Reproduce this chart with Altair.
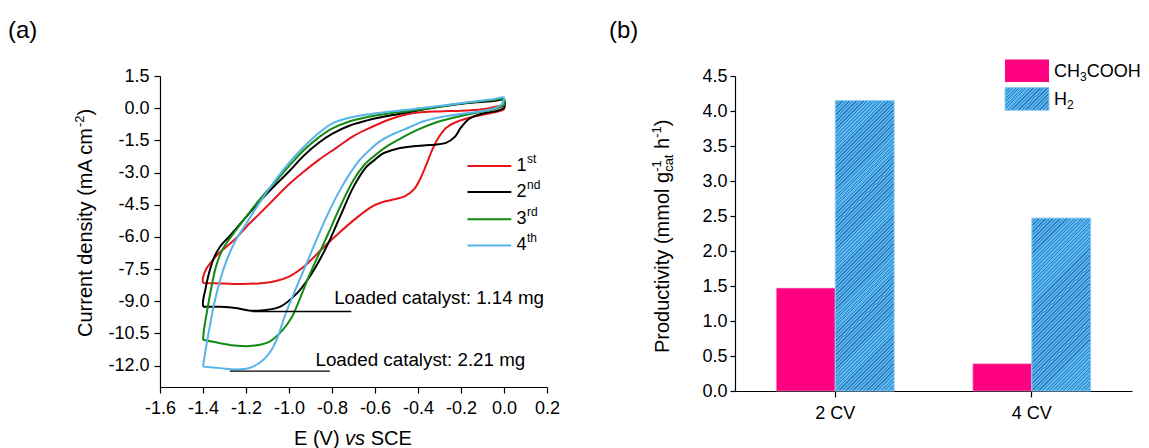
import math

import altair as alt
import pandas as pd

FONT = "Liberation Sans"
BLACK = "#000000"

# ---------------- (a) cyclic voltammograms ----------------
SCANS = ["1st", "2nd", "3rd", "4th"]
SCAN_NUMBERS = ["1", "2", "3", "4"]
SCAN_SUFFIXES = ["st", "nd", "rd", "th"]
SCAN_COLORS = ["#e8141a", "#000000", "#138a13", "#56b4e9"]

# upper branch: -1.4 V -> 0 V ; lower branch: 0 V -> -1.4 V  (E in V vs SCE, J in mA cm^-2)
E_1ST_UP = [-1.40, -1.40, -1.385, -1.36, -1.33, -1.29, -1.24, -1.20, -1.14, -1.09, -1.00, -0.93,
            -0.86, -0.78, -0.70, -0.62, -0.54, -0.47, -0.40, -0.30, -0.20, -0.10, 0.0]
J_1ST_UP = [-8.15, -7.90, -7.50, -7.15, -6.80, -6.45, -6.00, -5.55, -4.95, -4.45, -3.55, -2.95,
            -2.40, -1.85, -1.30, -0.90, -0.55, -0.33, -0.20, -0.15, -0.12, -0.05, 0.10]
E_1ST_DN = [0.0, -0.05, -0.11, -0.17, -0.23, -0.27, -0.30, -0.33, -0.36, -0.39, -0.42, -0.46, -0.51,
            -0.57, -0.62, -0.69, -0.76, -0.83, -0.88, -0.93, -1.00, -1.07, -1.14, -1.22, -1.31, -1.40]
J_1ST_DN = [-0.05, -0.20, -0.33, -0.47, -0.68, -0.92, -1.30, -1.85, -2.60, -3.30, -3.80, -4.10, -4.25,
            -4.40, -4.62, -5.15, -5.75, -6.40, -6.90, -7.38, -7.85, -8.08, -8.17, -8.20, -8.17, -8.15]

E_2ND_UP = [-1.40, -1.40, -1.39, -1.375, -1.35, -1.32, -1.27, -1.21, -1.15, -1.08, -1.00, -0.93,
            -0.86, -0.80, -0.72, -0.64, -0.55, -0.45, -0.36, -0.25, -0.15, -0.05, 0.0]
J_2ND_UP = [-9.26, -9.00, -8.50, -7.80, -7.00, -6.45, -5.90, -5.20, -4.50, -3.75, -2.95, -2.20,
            -1.60, -1.20, -0.82, -0.58, -0.38, -0.20, -0.03, 0.14, 0.25, 0.33, 0.38]
E_2ND_DN = [0.0, -0.03, -0.10, -0.16, -0.20, -0.23, -0.27, -0.345, -0.44, -0.50, -0.56, -0.60, -0.64,
            -0.70, -0.76, -0.82, -0.87, -0.91, -0.96, -1.04, -1.12, -1.18, -1.24, -1.32, -1.40]
J_2ND_DN = [0.02, -0.12, -0.25, -0.48, -0.90, -1.35, -1.62, -1.72, -1.80, -1.90, -2.10, -2.40, -2.74,
            -3.67, -5.00, -6.35, -7.30, -7.95, -8.60, -9.25, -9.42, -9.44, -9.33, -9.26, -9.26]

E_3RD_UP = [-1.40, -1.395, -1.38, -1.36, -1.34, -1.31, -1.27, -1.21, -1.14, -1.07, -1.00, -0.93,
            -0.86, -0.80, -0.72, -0.64, -0.55, -0.45, -0.35, -0.25, -0.15, -0.05, 0.0]
J_3RD_UP = [-10.80, -10.30, -9.40, -8.30, -7.40, -6.60, -6.00, -5.20, -4.30, -3.50, -2.70, -1.95,
            -1.35, -0.95, -0.62, -0.42, -0.27, -0.14, -0.01, 0.15, 0.28, 0.38, 0.42]
E_3RD_DN = [0.0, -0.05, -0.11, -0.18, -0.25, -0.32, -0.40, -0.47, -0.54, -0.60, -0.65, -0.70, -0.76,
            -0.82, -0.87, -0.91, -0.95, -0.99, -1.03, -1.09, -1.17, -1.24, -1.32, -1.40]
J_3RD_DN = [0.15, -0.05, -0.18, -0.32, -0.48, -0.68, -1.00, -1.35, -1.75, -2.20, -2.65, -3.35, -4.55,
            -5.90, -7.00, -7.90, -8.90, -9.80, -10.35, -10.88, -11.08, -11.08, -10.96, -10.80]

E_4TH_UP = [-1.40, -1.39, -1.38, -1.365, -1.35, -1.32, -1.29, -1.25, -1.20, -1.14, -1.07, -1.00,
            -0.93, -0.86, -0.80, -0.72, -0.64, -0.55, -0.45, -0.35, -0.25, -0.15, -0.05, 0.0]
J_4TH_UP = [-12.05, -11.40, -10.80, -10.00, -9.20, -8.00, -7.10, -6.20, -5.40, -4.45, -3.45, -2.55,
            -1.80, -1.15, -0.72, -0.45, -0.30, -0.18, -0.07, 0.04, 0.17, 0.30, 0.42, 0.50]
E_4TH_DN = [0.0, -0.02, -0.06, -0.12, -0.20, -0.29, -0.37, -0.42, -0.46, -0.51, -0.57, -0.62, -0.67,
            -0.72, -0.77, -0.82, -0.86, -0.90, -0.94, -0.98, -1.02, -1.05, -1.08, -1.12, -1.18, -1.25,
            -1.32, -1.40]
J_4TH_DN = [0.40, 0.10, -0.05, -0.17, -0.27, -0.41, -0.60, -0.80, -0.98, -1.18, -1.50, -1.90, -2.40,
            -3.10, -3.95, -4.95, -5.85, -6.80, -7.75, -8.70, -9.70, -10.60, -11.25, -11.74, -12.10, -12.18,
            -12.12, -12.05]

LOADINGS_MG = [1.14, 2.21]

# ---------------- (b) productivity ----------------
CYCLES = ["2 CV", "4 CV"]
PRODUCTS = ["CH3COOH", "H2"]
CH3COOH = [1.47, 0.39]
H2 = [4.15, 2.47]

PINK = "#ff0080"
HATCH_LIGHT = "#56b9f2"
HATCH_DARK = "#3479ba"

# ---------------- layout ----------------
A_W, A_H = 387, 311
B_W, B_H = 397, 315
SPACING = 188
TICK_FS = 18
TITLE_FS = 20
SUP_FS = 13
NOTE_FS = 18.8

# Arial / Liberation Sans advance widths (1/1000 em)
WIDTHS = {" ": 278, "(": 333, ")": 333, "-": 333, ".": 278, ":": 278,
          "A": 667, "C": 722, "E": 667, "H": 722, "O": 778, "P": 667, "S": 667, "V": 667,
          "a": 556, "b": 556, "c": 500, "d": 556, "e": 556, "g": 556, "h": 556, "i": 222,
          "l": 222, "m": 833, "n": 556, "o": 556, "r": 333, "s": 500, "t": 278, "u": 556,
          "v": 500, "y": 500}


def text_width(s, size):
    return sum(WIDTHS.get(ch, 556) for ch in s) * size / 1000.0


def rich_text(pieces, x, y, angle=0):
    """Text with super/subscripts: pieces are (text, size, rise, italic, advances)."""
    layers = []
    adv = 0.0
    for text, size, rise, italic, advances in pieces:
        lead = len(text) - len(text.lstrip(" "))
        layers.append(
            alt.Chart(pd.DataFrame({"t": [text.strip(" ")]}))
            .mark_text(align="left", baseline="alphabetic", angle=angle,
                       dx=adv + lead * WIDTHS[" "] * size / 1000.0, dy=-rise,
                       fontSize=size, font=FONT, color=BLACK,
                       fontStyle="italic" if italic else "normal")
            .encode(x=alt.value(x), y=alt.value(y), text="t:N")
        )
        if advances:
            adv += text_width(text, size)
    return layers


def panel_label(label, x, y):
    return (alt.Chart(pd.DataFrame({"t": [label]}))
            .mark_text(align="left", baseline="top", fontSize=24, font=FONT, color=BLACK)
            .encode(x=alt.value(x), y=alt.value(y), text="t:N"))


HYPHEN_LABEL = "replace(format(datum.value, '.1f'), '\u2212', '-')"

# ---------------- panel (a) ----------------
curves = [(E_1ST_UP, J_1ST_UP, E_1ST_DN, J_1ST_DN),
          (E_2ND_UP, J_2ND_UP, E_2ND_DN, J_2ND_DN),
          (E_3RD_UP, J_3RD_UP, E_3RD_DN, J_3RD_DN),
          (E_4TH_UP, J_4TH_UP, E_4TH_DN, J_4TH_DN)]
rows = []
for scan, (eu, ju, ed, jd) in zip(SCANS, curves):
    es = eu + ed[:-1] + [eu[0]]
    js = ju + jd[:-1] + [ju[0]]
    for i, (e, j) in enumerate(zip(es, js)):
        rows.append({"scan": scan, "E": e, "J": j, "idx": i})
cv = pd.DataFrame(rows)

xa = alt.Scale(domain=[-1.6, 0.2], nice=False, zero=False)
ya = alt.Scale(domain=[-13.0, 1.5], nice=False, zero=False)
ca = alt.Scale(domain=SCANS, range=SCAN_COLORS)

axis_xa = alt.Axis(values=[-1.6, -1.4, -1.2, -1.0, -0.8, -0.6, -0.4, -0.2, 0.0, 0.2],
                   labelExpr=HYPHEN_LABEL, title=None, tickSize=6, labelPadding=6,
                   labelOverlap=False, labelFlush=False)
axis_ya = alt.Axis(values=[-12.0, -10.5, -9.0, -7.5, -6.0, -4.5, -3.0, -1.5, 0.0, 1.5],
                   labelExpr=HYPHEN_LABEL, title=None, tickSize=6, labelPadding=5,
                   labelOverlap=False, labelFlush=False, labelSeparation=0)


def ax(field):
    return alt.X(field, scale=xa, axis=axis_xa)


def ay(field):
    return alt.Y(field, scale=ya, axis=axis_ya)


lines = alt.Chart(cv).mark_line(strokeWidth=2, strokeJoin="round",
                                interpolate="catmull-rom").encode(
    x=ax("E:Q"),
    y=ay("J:Q"),
    color=alt.Color("scan:N", scale=ca, legend=None),
    detail="scan:N",
    order=alt.Order("idx:Q"),
)

# legend drawn inside the plot
LEG_X0, LEG_X1, LEG_TX = -0.17, 0.034, 0.058
LEG_Y = [-2.70, -3.91, -5.18, -6.40]
leg = pd.DataFrame({"scan": SCANS, "y": LEG_Y, "num": SCAN_NUMBERS, "sup": SCAN_SUFFIXES,
                    "x0": [LEG_X0] * 4, "x1": [LEG_X1] * 4, "tx": [LEG_TX] * 4})
leg_lines = alt.Chart(leg).mark_rule(strokeWidth=2).encode(
    x=ax("x0:Q"), x2="x1:Q", y=ay("y:Q"),
    color=alt.Color("scan:N", scale=ca, legend=None),
)
leg_num = alt.Chart(leg).mark_text(align="left", baseline="middle", fontSize=18, font=FONT,
                                   color=BLACK).encode(
    x=ax("tx:Q"), y=ay("y:Q"), text="num:N")
leg_sup = alt.Chart(leg).mark_text(align="left", baseline="middle", fontSize=12, font=FONT,
                                   color=BLACK, dx=text_width("1", 18) + 0.5, dy=-7).encode(
    x=ax("tx:Q"), y=ay("y:Q"), text="sup:N")

# catalyst loading annotations
ann = pd.DataFrame({
    "label": [f"Loaded catalyst: {m:.2f} mg" for m in LOADINGS_MG],
    "tx": [-0.79, -0.877], "ty": [-8.85, -11.72],
    "x1": [-1.17, -1.275], "x2": [-0.71, -0.81], "y": [-9.48, -12.26],
})
ann_rules = alt.Chart(ann).mark_rule(color=BLACK, strokeWidth=1.3).encode(
    x=ax("x1:Q"), x2="x2:Q", y=ay("y:Q"))
ann_text = alt.Chart(ann).mark_text(align="left", baseline="middle", fontSize=NOTE_FS, font=FONT,
                                    color=BLACK).encode(
    x=ax("tx:Q"), y=ay("ty:Q"), text="label:N")

a_title_y = rich_text([("Current density (mA cm", TITLE_FS, 0, False, True),
                       ("-2", SUP_FS, 8, False, True),
                       (")", TITLE_FS, 0, False, True)], x=-68, y=261, angle=270)
a_title_x = rich_text([("E (V) ", TITLE_FS, 0, False, True),
                       ("vs", TITLE_FS, 0, True, True),
                       (" SCE", TITLE_FS, 0, False, True)], x=134, y=369)

panel_a = alt.layer(
    lines, leg_lines, leg_num, leg_sup, ann_rules, ann_text,
    *a_title_y, *a_title_x, panel_label("(a)", -152, -57),
).properties(width=A_W, height=A_H)

# ---------------- panel (b) ----------------
prod = pd.DataFrame({
    "cycle": CYCLES * 2,
    "product": [PRODUCTS[0]] * len(CYCLES) + [PRODUCTS[1]] * len(CYCLES),
    "value": CH3COOH + H2,
})

PAD_OUTER_X = 0.01
PAD_OUTER_OFF = 0.668
xb = alt.Scale(domain=CYCLES, paddingInner=0, paddingOuter=PAD_OUTER_X)
xob = alt.Scale(domain=PRODUCTS, paddingInner=0, paddingOuter=PAD_OUTER_OFF)
yb = alt.Scale(domain=[0, 4.5], nice=False)

axis_xb = alt.Axis(title=None, labelAngle=0, tickSize=6, labelPadding=7, tickBand="center")
axis_yb = alt.Axis(values=[0.0, 0.5, 1.0, 1.5, 2.0, 2.5, 3.0, 3.5, 4.0, 4.5], format=".1f",
                   title=None, tickSize=5, labelPadding=3, labelOverlap=False,
                   labelFlush=False)

STRIPE_PERIOD = 2.5
DARK_SHARE = 0.38


def hatch(w, h):
    """Diagonal (45 deg) stripes as a hard-stop linear gradient over a w x h box."""
    r = h / w
    p = (1 + r) / (1 + r * r)
    q = p * r
    n = max(1, round((w + h) / math.sqrt(2) / STRIPE_PERIOD))
    stops = []
    for k in range(n):
        a, b, c = k / n, (k + DARK_SHARE) / n, (k + 1) / n
        stops += [{"offset": a, "color": HATCH_DARK}, {"offset": b, "color": HATCH_DARK},
                  {"offset": b, "color": HATCH_LIGHT}, {"offset": c, "color": HATCH_LIGHT}]
    return {"gradient": "linear", "x1": 0, "y1": 0, "x2": p, "y2": q, "stops": stops}


band_step = B_W / (len(CYCLES) + 2 * PAD_OUTER_X)
bar_w = band_step / (len(PRODUCTS) + 2 * PAD_OUTER_OFF)

base_b = alt.Chart(prod).encode(
    x=alt.X("cycle:N", scale=xb, axis=axis_xb, sort=CYCLES),
    xOffset=alt.XOffset("product:N", scale=xob, sort=PRODUCTS),
    y=alt.Y("value:Q", scale=yb, axis=axis_yb),
)
acid_bars = base_b.transform_filter(alt.datum.product == PRODUCTS[0]).mark_bar(
    color=PINK, stroke="#f4a6c8", strokeWidth=0.6)
h2_layers = []
for cyc, val in zip(CYCLES, H2):
    h2_layers.append(
        base_b.transform_filter((alt.datum.product == PRODUCTS[1]) & (alt.datum.cycle == cyc))
        .mark_bar(fill=hatch(bar_w, val / 4.5 * B_H), stroke="#8fcdf2", strokeWidth=1)
    )

LEG_BOX_X = (270, 314)
leg_b = [
    alt.Chart(pd.DataFrame({"k": [0]})).mark_rect(fill=PINK).encode(
        x=alt.value(LEG_BOX_X[0]), x2=alt.value(LEG_BOX_X[1]), y=alt.value(-16.4), y2=alt.value(6.0)),
    alt.Chart(pd.DataFrame({"k": [0]})).mark_rect(
        fill=hatch(LEG_BOX_X[1] - LEG_BOX_X[0], 22.7), stroke="#8fcdf2", strokeWidth=1).encode(
        x=alt.value(LEG_BOX_X[0]), x2=alt.value(LEG_BOX_X[1]), y=alt.value(11.6), y2=alt.value(34.3)),
]
leg_b += rich_text([("CH", 18, 0, False, True), ("3", 12, -4, False, True),
                    ("COOH", 18, 0, False, True)], x=319, y=1.0)
leg_b += rich_text([("H", 18, 0, False, True), ("2", 12, -4, False, True)], x=319, y=29.3)

b_title_y = rich_text([("Productivity (mmol g", TITLE_FS, 0, False, True),
                       ("-1", SUP_FS, 8, False, False),
                       ("cat", SUP_FS, -4, False, True),
                       (" h", TITLE_FS, 0, False, True),
                       ("-1", SUP_FS, 8, False, True),
                       (")", TITLE_FS, 0, False, True)], x=-66, y=277, angle=270)

panel_b = alt.layer(
    acid_bars, *h2_layers, *leg_b, *b_title_y, panel_label("(b)", -126, -57),
).properties(width=B_W, height=B_H)

chart = (
    alt.hconcat(panel_a, panel_b, spacing=SPACING, bounds="flush")
    .properties(padding={"left": 8, "top": 19, "right": 0, "bottom": 0})
    .configure_view(stroke=None)
    .configure_axis(grid=False, domainColor=BLACK, tickColor=BLACK, labelColor=BLACK,
                    labelFont=FONT, labelFontSize=TICK_FS, domainWidth=1.2, tickWidth=1.2,
                    labelFlush=False, labelOverlap=False)
    .configure_text(font=FONT)
)

chart.save("out.html", embed_options={"renderer": "svg", "actions": False})
